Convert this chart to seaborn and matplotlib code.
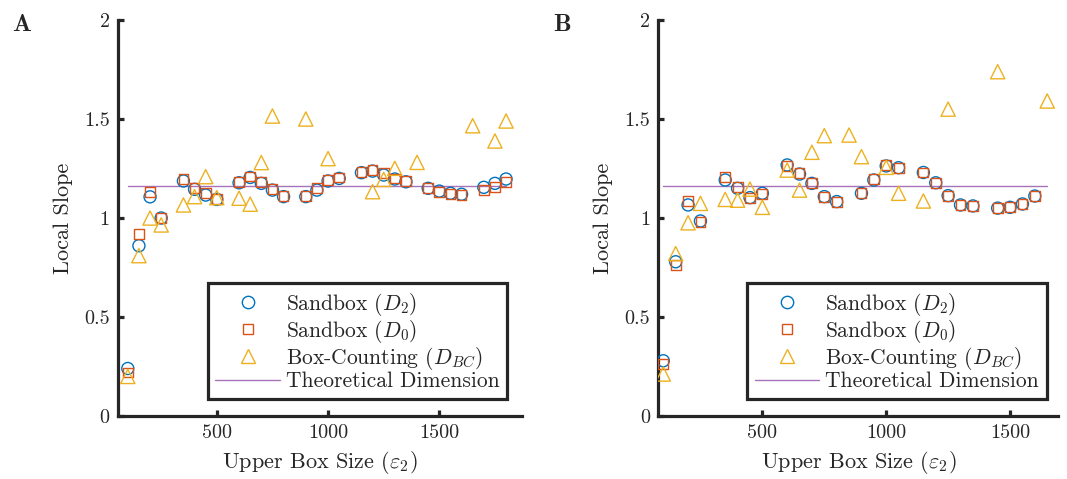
import numpy as np
import pandas as pd
import seaborn as sns
import matplotlib
matplotlib.use("Agg")
import matplotlib.pyplot as plt
from matplotlib.lines import Line2D

# ---- data ----
# panel A
a_x = [100, 150, 200, 250, 350, 400, 450, 500, 600, 650, 700, 750, 800,
       900, 950, 1000, 1050, 1150, 1200, 1250, 1300, 1350,
       1450, 1500, 1550, 1600, 1700, 1750, 1800]
a_d2 = [0.24, 0.86, 1.107, 1.00, 1.187, 1.145, 1.116, 1.094, 1.178, 1.205, 1.175, 1.141, 1.108,
        1.108, 1.141, 1.187, 1.20, 1.229, 1.237, 1.217, 1.197, 1.183,
        1.15, 1.136, 1.125, 1.12, 1.155, 1.175, 1.197]
a_d0 = [0.22, 0.92, 1.133, 1.00, 1.197, 1.153, 1.125, 1.096, 1.18, 1.21, 1.18, 1.146, 1.11,
        1.11, 1.15, 1.19, 1.205, 1.234, 1.242, 1.226, 1.20, 1.187,
        1.15, 1.133, 1.121, 1.116, 1.141, 1.155, 1.18]
a_bc_x = [100, 150, 200, 250, 350, 400, 450, 500, 600, 650, 700, 750,
          900, 1000, 1200, 1250, 1300, 1400, 1650, 1750, 1800]
a_bc = [0.20, 0.81, 1.0, 0.965, 1.066, 1.108, 1.209, 1.103, 1.10, 1.07, 1.28, 1.515,
        1.50, 1.30, 1.133, 1.195, 1.251, 1.281, 1.466, 1.389, 1.49]

# panel B
b_x = [100, 150, 200, 250, 350, 400, 450, 500, 600, 650, 700, 750, 800,
       900, 950, 1000, 1050, 1150, 1200, 1250, 1300, 1350,
       1450, 1500, 1550, 1600]
b_d2 = [0.279, 0.779, 1.066, 0.985, 1.192, 1.15, 1.103, 1.125, 1.268, 1.222, 1.175, 1.108, 1.083,
        1.125, 1.192, 1.263, 1.254, 1.23, 1.178, 1.113, 1.066, 1.061,
        1.05, 1.054, 1.071, 1.111]
b_d0 = [0.263, 0.763, 1.087, 0.98, 1.209, 1.158, 1.10, 1.12, 1.263, 1.229, 1.175, 1.105, 1.08,
        1.125, 1.195, 1.268, 1.254, 1.23, 1.178, 1.113, 1.066, 1.061,
        1.05, 1.054, 1.071, 1.111]
b_bc_x = [100, 150, 200, 250, 350, 400, 450, 500, 600, 650, 700, 750, 850,
          900, 1000, 1050, 1150, 1250, 1450, 1650]
b_bc = [0.212, 0.82, 0.976, 1.074, 1.094, 1.09, 1.146, 1.054, 1.242, 1.141, 1.332, 1.416, 1.419,
        1.31, 1.256, 1.125, 1.086, 1.55, 1.739, 1.591]

theory = 1.16
a_range = [100, 1800]
b_range = [100, 1650]

labels = [r"Sandbox ($D_2$)", r"Sandbox ($D_0$)", r"Box-Counting ($D_{BC}$)", "Theoretical Dimension"]
c_d2 = "#0072BD"
c_d0 = "#D95319"
c_bc = "#EDB120"
c_th = "#A673BA"
ink = "#262626"

sns.set_theme(style="ticks")
plt.rcParams["font.family"] = ["cmr10", "DejaVu Serif"]
plt.rcParams["mathtext.fontset"] = "cm"
plt.rcParams["axes.formatter.use_mathtext"] = True

fig = plt.figure(figsize=(10.67, 4.79), dpi=100)
axA = fig.add_axes([0.1106, 0.1315, 0.3787, 0.8267])
axB = fig.add_axes([0.6170, 0.1315, 0.3749, 0.8267])


def panel(ax, x, d2, d0, bx, bc, xr, xlim, anchor_x):
    sns.scatterplot(x=x, y=d2, ax=ax, marker="o", s=75, color=c_d2,
                    facecolor="none", edgecolor=c_d2, linewidth=1.0, zorder=3)
    sns.scatterplot(x=x, y=d0, ax=ax, marker="s", s=50, color=c_d0,
                    facecolor="none", edgecolor=c_d0, linewidth=1.0, zorder=4)
    sns.scatterplot(x=bx, y=bc, ax=ax, marker="^", s=105, color=c_bc,
                    facecolor="none", edgecolor=c_bc, linewidth=1.0, zorder=5)
    sns.lineplot(x=xr, y=[theory, theory], ax=ax, color=c_th, linewidth=1.0, zorder=2)

    ax.set_xlim(*xlim)
    ax.set_ylim(0, 2)
    ax.set_xticks([500, 1000, 1500])
    ax.set_yticks([0, 0.5, 1, 1.5, 2])
    ax.set_yticklabels(["0", "0.5", "1", "1.5", "2"])
    ax.set_xticklabels(["500", "1000", "1500"])
    sns.despine(ax=ax)
    for s in ["left", "bottom"]:
        ax.spines[s].set_linewidth(2.3)
        ax.spines[s].set_color(ink)
    ax.tick_params(direction="in", length=4, width=2.3, color=ink,
                   labelsize=14.5, pad=6, labelcolor=ink)
    ax.set_xlabel(r"Upper Box Size ($\varepsilon_2$)", fontsize=16, color=ink, labelpad=5)
    ax.set_ylabel("Local Slope", fontsize=16, color=ink, labelpad=8)

    handles = [
        Line2D([], [], linestyle="none", marker="o", markersize=8.9, mfc="none", mec=c_d2, mew=1.0),
        Line2D([], [], linestyle="none", marker="s", markersize=6.8, mfc="none", mec=c_d0, mew=1.0),
        Line2D([], [], linestyle="none", marker="^", markersize=10.5, mfc="none", mec=c_bc, mew=1.0),
        Line2D([], [], color=c_th, linewidth=1.0),
    ]
    leg = ax.legend(handles, labels, loc="lower right", bbox_to_anchor=(anchor_x, 0.044),
                    fancybox=False, framealpha=1, edgecolor=ink, fontsize=15.5,
                    handlelength=3.0, handletextpad=0.28, labelspacing=0.0,
                    borderpad=0.35, borderaxespad=0)
    leg.get_frame().set_linewidth(2.3)


panel(axA, a_x, a_d2, a_d0, a_bc_x, a_bc, a_range, (56, 1872), 0.963)
panel(axB, b_x, b_d2, b_d0, b_bc_x, b_bc, b_range, (80, 1695), 0.971)

fig.text(0.011, 0.970, "A", fontsize=18, family=["cmb10", "DejaVu Serif"], va="top", ha="left")
fig.text(0.518, 0.970, "B", fontsize=18, family=["cmb10", "DejaVu Serif"], va="top", ha="left")

fig.savefig("out.png", dpi=100)
